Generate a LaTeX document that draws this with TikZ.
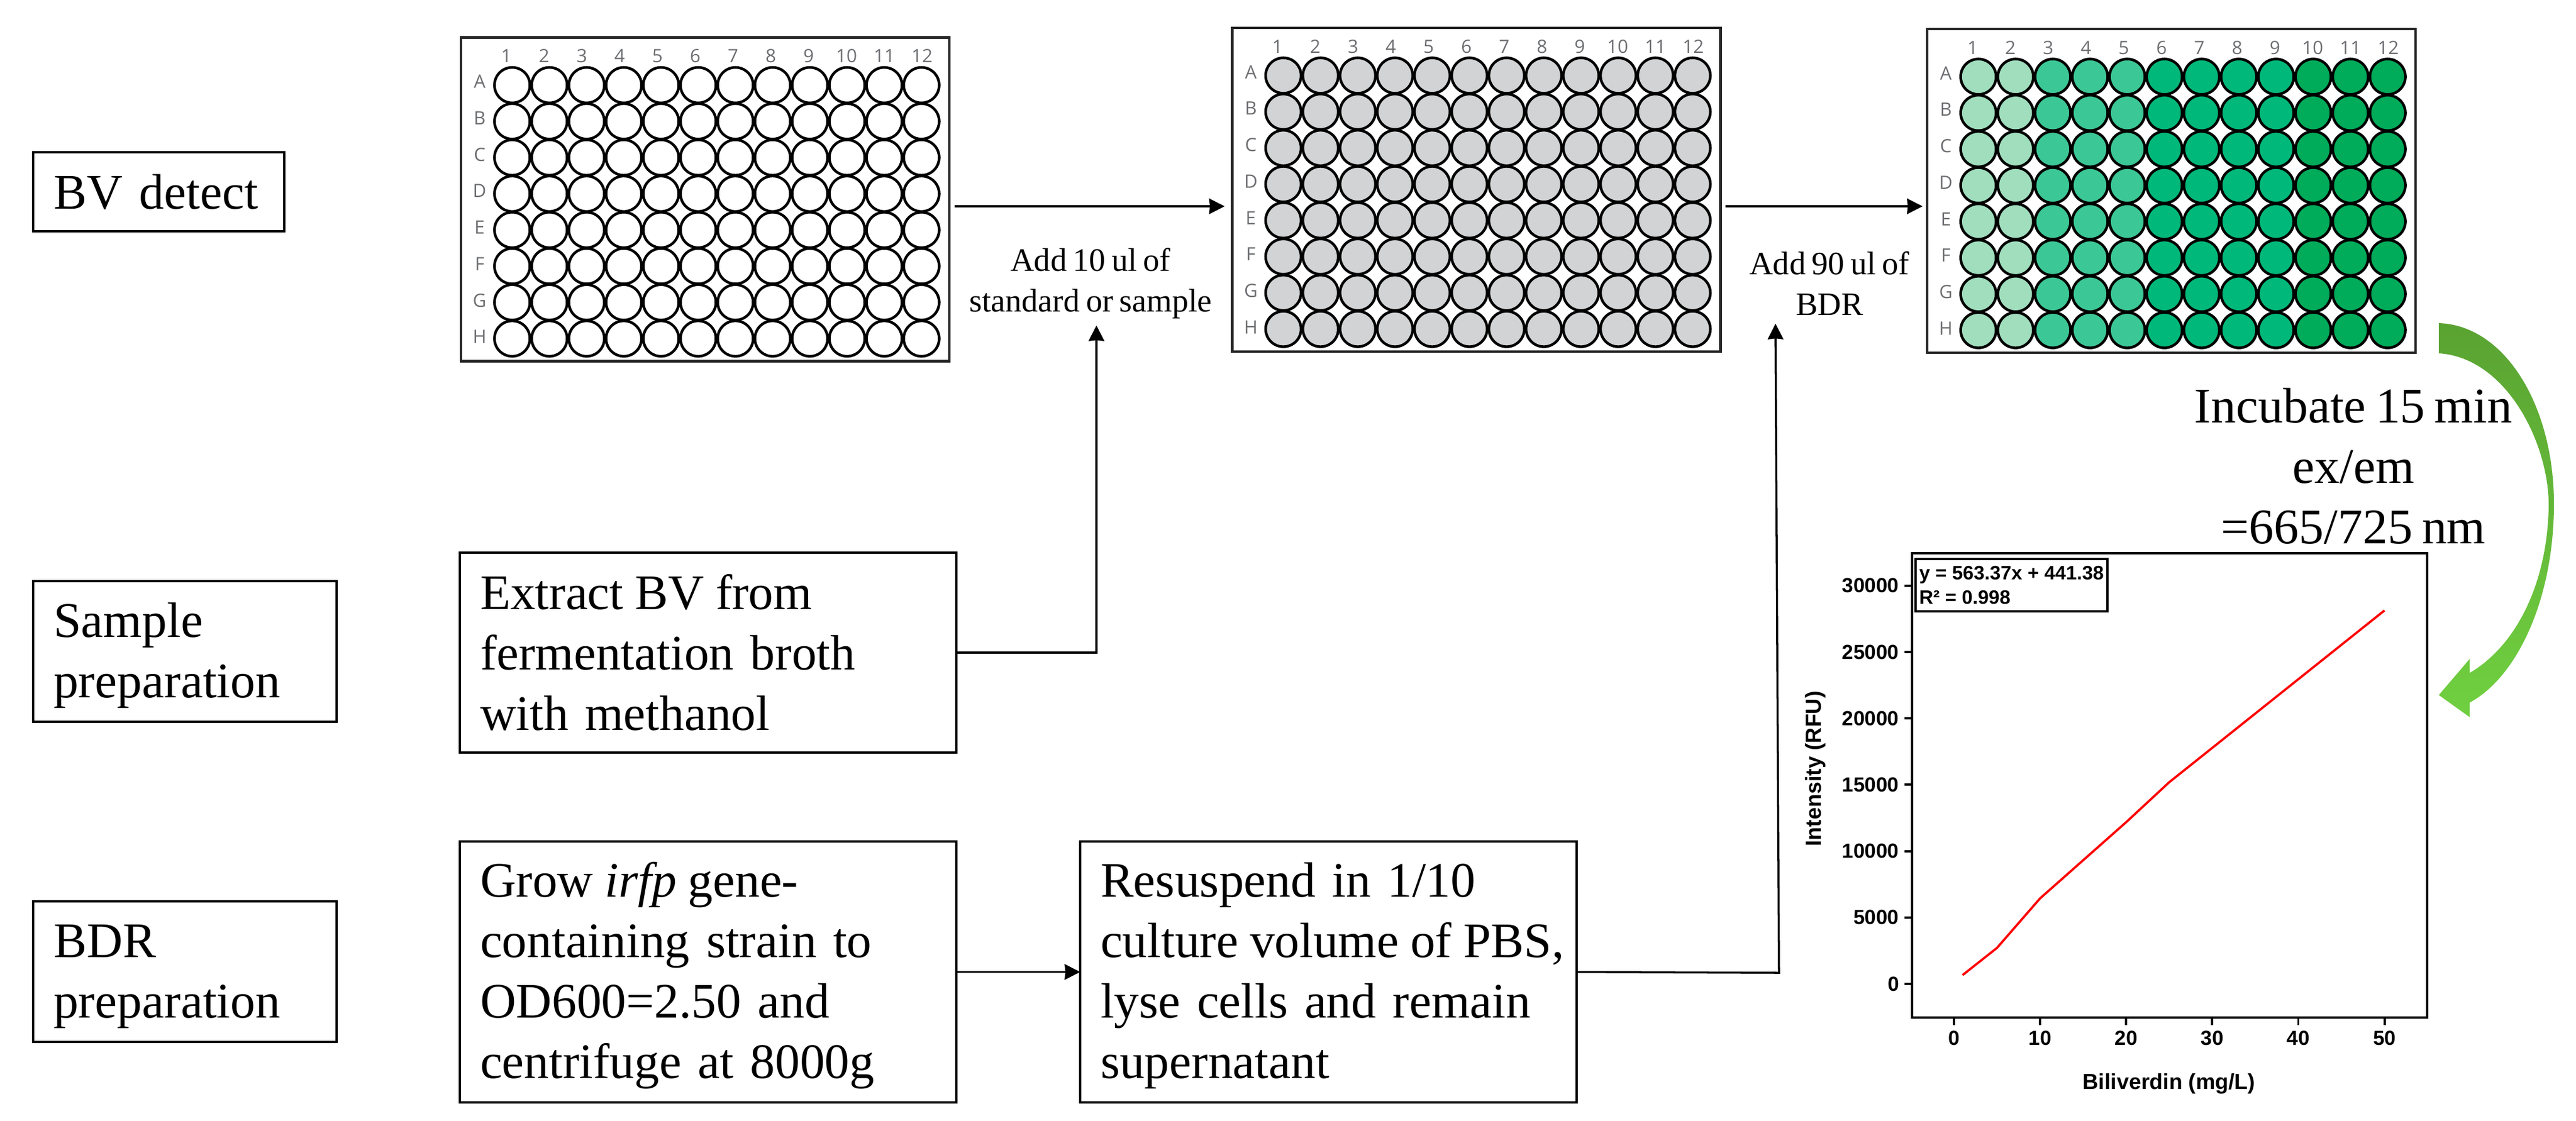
\documentclass[tikz,border=0pt]{standalone}
\usepackage{fontspec}
\usepackage{pgfplots}
\usetikzlibrary{arrows.meta, positioning, calc}
\pgfplotsset{compat=1.18}
\setmainfont{Liberation Serif}[WordSpace=0.75]
\newfontfamily\platefont{Open Sans}
\newfontfamily\chartfont{Liberation Sans}
\newcommand{\tightgap}{\hspace{-0.1em}}

\definecolor{wellgray}{HTML}{D1D3D4}
\definecolor{wellpale}{HTML}{A0DEBE}
\definecolor{wellmint}{HTML}{3CC796}
\definecolor{wellmid}{HTML}{00B87A}
\definecolor{welldeep}{HTML}{00AB5A}
\definecolor{platetext}{HTML}{6D6E71}
\definecolor{swoopdark}{HTML}{5AA332}
\definecolor{swooplight}{HTML}{70D040}

\tikzset{
  bigtext/.style={font=\fontsize{24.4}{29.6}\selectfont},
  smalltext/.style={font=\fontsize{16}{19.9}\selectfont, align=center},
  stepbox/.style={draw, line width=1pt, bigtext, align=left, outer sep=0pt, inner xsep=0.35cm, inner ysep=0pt},
  labelbox/.style={stepbox, text width=4.52cm, minimum height=2.42cm},
  procbox/.style={stepbox, text width=7.84cm, font=\fontsize{24.3}{29.6}\selectfont},
  flow/.style={->, line width=1pt},
  plate/.style={draw=black!85, line width=1.3pt, minimum width=8.4cm, minimum height=5.57cm, outer sep=0pt, inner sep=0pt},
  well/.style={circle, draw, line width=1.3pt, minimum size=0.61cm, inner sep=0pt, outer sep=0pt},
  platelabel/.style={font=\platefont\fontsize{9}{9}\selectfont, text=platetext, inner sep=0pt},
}

% one 96-well plate: name, centre, column/colour list
\newcommand{\wellplate}[3]{
  \node[plate] (#1) at (#2) {};
  \foreach \c/\col in {#3}{
    \node[platelabel] (#1-n\c) at ($(#1.north west)+(0.78+0.65*\c-0.65,-0.32)$) {\c};
    \foreach \r [count=\ri from 0] in {A,B,C,D,E,F,G,H}{
      \node[well, fill=\col] (#1-\r\c) at ($(#1.north west)+(0.88+0.64*\c-0.64,-0.82-0.623*\ri)$) {};
    }
  }
  \foreach \r [count=\ri from 0] in {A,B,C,D,E,F,G,H}{
    \node[platelabel] (#1-\r) at ($(#1.north west)+(0.32,-0.76-0.627*\ri)$) {\r};
  }
}

\begin{document}
\begin{tikzpicture}[>={Stealth[length=7.6pt,width=7.6pt,inset=0.4pt]}, node distance=2.13cm]
  \useasboundingbox (0,0) rectangle (44.31,-19.28);

  % row titles on the left
  \node[stepbox, text width=3.62cm, minimum height=1.36cm, anchor=north west] (detect) at (0.57,-2.62) {BV detect};
  \node[labelbox, below=6.02cm of detect.south west, anchor=north west] (sample) {\strut Sample\\preparation};
  \node[labelbox, below=3.09cm of sample.south west, anchor=north west] (bdr) {\strut BDR\\preparation};

  % the three plates
  \wellplate{plateA}{12.13,-3.43}{1/white,2/white,3/white,4/white,5/white,6/white,7/white,8/white,9/white,10/white,11/white,12/white}
  \wellplate{plateB}{25.395,-3.265}{1/wellgray,2/wellgray,3/wellgray,4/wellgray,5/wellgray,6/wellgray,7/wellgray,8/wellgray,9/wellgray,10/wellgray,11/wellgray,12/wellgray}
  \wellplate{plateC}{37.35,-3.285}{1/wellpale,2/wellpale,3/wellmint,4/wellmint,5/wellmint,6/wellmid,7/wellmid,8/wellmid,9/wellmid,10/welldeep,11/welldeep,12/welldeep}

  % preparation boxes
  \node[procbox, minimum height=3.44cm, anchor=north west] (extract) at (7.91,-9.51) {Extract \tightgap BV \tightgap from\\fermentation broth\\with methanol};
  \node[procbox, minimum height=4.49cm, anchor=north west] (grow) at (7.91,-14.48) {\strut Grow \tightgap\textit{irfp} \tightgap gene-\\containing strain to\\OD600=2.50 and\\centrifuge at 8000g};
  \node[procbox, minimum height=4.49cm, right=of grow] (resuspend) {\strut Resuspend in 1/10\\\mbox{culture \tightgap volume \tightgap of \tightgap PBS,}\\lyse cells and remain\\supernatant};

  % transfer labels
  \node[smalltext] (addsample) at (18.76,-4.88) {Add 10 ul of\\standard or sample};
  \node[smalltext] (addbdr) at (31.47,-4.88) {Add 90 ul of\\BDR};

  % connectors
  \coordinate (platerow) at (0,-3.55);
  \coordinate (sampletip) at (18.86,-5.60);
  \coordinate (bdrcorner) at (30.60,-16.74);
  \coordinate (bdrtip) at (30.54,-5.57);
  \draw[flow, shorten <=0.09cm, shorten >=0.13cm] (plateA.east |- platerow) -- (plateB.west |- platerow);
  \draw[flow, shorten <=0.08cm, shorten >=0.08cm] (plateB.east |- platerow) -- (plateC.west |- platerow);
  \draw[flow] (extract.east) -| (sampletip);
  \draw[flow] (grow.east) -- (resuspend.west);
  \draw[flow] (resuspend.east) -- (bdrcorner) -- (bdrtip);

  % curved green arrow down to the chart
  \shade[top color=swoopdark, bottom color=swooplight]
    (41.95,-5.56) .. controls (43.10,-5.60) and (43.93,-7.00) .. (43.93,-8.67)
    .. controls (43.93,-10.30) and (43.30,-11.65) .. (42.48,-12.09)
    -- (42.48,-12.34) -- (41.95,-11.96) -- (42.48,-11.34) -- (42.48,-11.58)
    .. controls (43.30,-11.10) and (43.83,-10.00) .. (43.84,-8.67)
    .. controls (43.83,-7.60) and (43.10,-6.15) .. (41.95,-6.08) -- cycle;
  \node[bigtext, align=center] (incubate) at (40.48,-8.02) {Incubate 15 min\\ex/em\\=665/725 nm};

  % calibration chart
  \coordinate (chartorigin) at (32.89,-17.51);
  \begin{axis}[
    at={(chartorigin)}, anchor=south west, scale only axis,
    width=8.86cm, height=7.99cm,
    xmin=-4.86, xmax=54.96, ymin=-2540, ymax=32440,
    scaled y ticks=false,
    xtick={0,10,20,30,40,50}, xticklabels={0,10,20,30,40,50},
    ytick={0,5000,10000,15000,20000,25000,30000},
    yticklabels={0,5000,10000,15000,20000,25000,30000},
    tick align=outside, major tick length=3.7pt,
    xtick pos=bottom, ytick pos=left,
    axis line style={line width=1.3pt}, tick style={black, line width=1.1pt},
    tick label style={font=\chartfont\bfseries\fontsize{10}{10}\selectfont, inner sep=2.5pt},
  ]
    \addplot[red, line width=1.1pt] coordinates {(1,660) (5,2710) (10,6440) (20,12180) (25,15190) (50,28130)};
  \end{axis}
  \node[draw, line width=1pt, anchor=north west, outer sep=0pt, inner sep=0pt, minimum width=3.30cm, minimum height=0.90cm,
        font=\chartfont\bfseries\fontsize{9.5}{12}\selectfont, align=left] (fitbox) at (32.95,-9.62)
        {y = 563.37x + 441.38\\R² = 0.998};
  \node[font=\chartfont\bfseries\fontsize{10.7}{11}\selectfont, anchor=base] (xtitle) at (37.31,-18.74) {Biliverdin (mg/L)};
  \node[font=\chartfont\bfseries\fontsize{10.7}{11}\selectfont, rotate=90] (ytitle) at (31.23,-13.23) {Intensity (RFU)};
\end{tikzpicture}
\end{document}
